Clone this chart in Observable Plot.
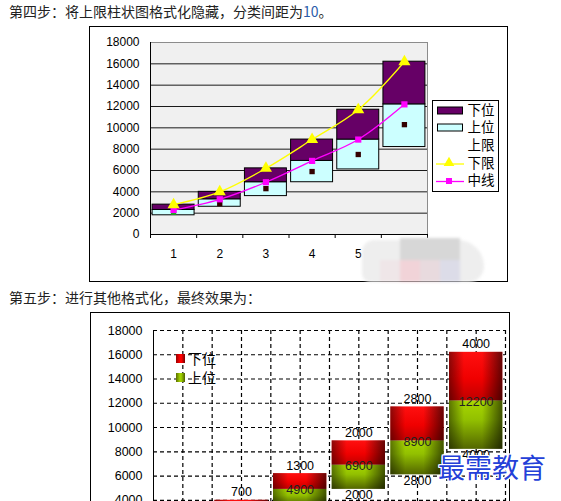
<!DOCTYPE html>
<html><head><meta charset="utf-8">
<script src="https://cdn.jsdelivr.net/npm/d3@7"></script>
<script src="https://cdn.jsdelivr.net/npm/@observablehq/plot@0.6"></script>
<style>
html,body{margin:0;padding:0;background:#fff;}
#page{position:relative;width:561px;height:501px;overflow:hidden;font-family:"Noto Sans CJK SC",sans-serif;}
.abs{position:absolute;}
.step{position:absolute;left:9px;font-size:14px;color:#222;white-space:nowrap;line-height:14px;}
.border{position:absolute;box-sizing:border-box;border:1px solid #000;pointer-events:none;}
.lg2{position:absolute;font-size:14px;line-height:14px;color:#000;white-space:nowrap;}
.sq{position:absolute;width:9px;height:9px;}
#wm{position:absolute;left:438px;top:453px;font-size:27px;line-height:27px;color:#2440d8;white-space:nowrap;
 text-shadow:1px 0 0 #fff,-1px 0 0 #fff,0 1px 0 #fff,0 -1px 0 #fff,1px 1px 0 #fff,-1px -1px 0 #fff,1px -1px 0 #fff,-1px 1px 0 #fff;}
</style></head>
<body><div id="page">
<div class="step" style="top:4px">第四步：将上限柱状图格式化隐藏，分类间距为<span style="color:#2a5caa">10</span>。</div>
<div id="c1" class="abs" style="left:89px;top:26px"></div>
<div class="border" style="left:89px;top:26px;width:419px;height:256px"></div>
<div id="leg1" class="abs" style="left:432px;top:100px"></div>
<div id="blob" class="abs" style="left:358px;top:234px;width:130px;height:52px;filter:blur(1.5px)">
  <div class="abs" style="left:4px;top:6px;width:122px;height:42px;background:#eeeeee;border-radius:14px 30px 18px 10px"></div>
  <div class="abs" style="left:42px;top:4px;width:60px;height:22px;background:#d7d7d7"></div>
  <div class="abs" style="left:22px;top:26px;width:20px;height:22px;background:#efe6e8"></div>
  <div class="abs" style="left:42px;top:26px;width:20px;height:22px;background:#f1d3d8"></div>
  <div class="abs" style="left:62px;top:26px;width:20px;height:22px;background:#e8dade"></div>
  <div class="abs" style="left:82px;top:26px;width:20px;height:22px;background:#dcdce8"></div>
</div>
<div class="step" style="top:290px">第五步：进行其他格式化，最终效果为：</div>
<div id="c2" class="abs" style="left:90px;top:312px"></div>
<div class="border" style="left:90px;top:312px;width:420px;height:260px"></div>
<div class="sq" style="left:176px;top:354px;background:linear-gradient(90deg,#900,#f00 45%,#f00 60%,#700)"></div>
<div class="lg2" style="left:188px;top:351px">下位</div>
<div class="sq" style="left:176px;top:373px;background:linear-gradient(90deg,#5a6d00,#a6d600 45%,#9acb00 60%,#4d5e00)"></div>
<div class="lg2" style="left:188px;top:370px">上位</div>
<div id="wm">最需教育</div>
</div>
<script>
// ---- data ----
const categories = [1, 2, 3, 4, 5, 6];
const median    = [2300, 3300, 4900, 6900, 8900, 12200];   // 中线
const belowSpan = [500, 700, 1300, 2000, 2800, 4000];      // 上位 (box part below median)
const aboveSpan = [500, 700, 1300, 2000, 2800, 4000];      // 下位 (box part above median)
const markValues = [2100, 2900, 4300, 5900, 7500, 10300];  // small dark markers
const markColors = ["#19b219", "#330000", "#330000", "#330000", "#330000", "#330000"];
const yTicks = [0, 2000, 4000, 6000, 8000, 10000, 12000, 14000, 16000, 18000];
const legendNames = ["下位", "上位", "上限", "下限", "中线"];
const legendKinds = ["rect", "rect", "none", "lineTri", "lineSq"];
const legendColors = ["#660066", "#ccffff", "none", "#ffff00", "#ff00ff"];

const rows = categories.map((c, i) => ({
  cat: c, med: median[i], lo: median[i] - belowSpan[i], hi: median[i] + aboveSpan[i],
  below: belowSpan[i], above: aboveSpan[i], mark: markValues[i], markColor: markColors[i]
}));
const half = 1 / 2.2;            // gap width 10%
const boundaries = d3.range(0.5, 6.51, 1);
const halfSteps = d3.range(1, 6.51, 0.5);

// ---- chart 1 ----
const c1 = Plot.plot({
  width: 419, height: 256, marginLeft: 61, marginRight: 81, marginTop: 16, marginBottom: 48,
  style: {fontFamily: "'Liberation Sans', Arial, sans-serif", fontSize: "12px", color: "#000", background: "#fff"},
  x: {domain: [0.5, 6.5], axis: null, label: null},
  y: {domain: [0, 18000], axis: null, label: null},
  color: {type: "identity"},
  marks: [
    Plot.frame({fill: "#f0f0f0", stroke: "#8c8c8c"}),
    Plot.ruleY(yTicks.filter(v => v > 0 && v < 18000), {stroke: "#1a1a1a"}),
    Plot.rect(rows, {x1: d => d.cat - half, x2: d => d.cat + half, y1: "lo", y2: "med", fill: "#ccffff", stroke: "#000"}),
    Plot.rect(rows, {x1: d => d.cat - half, x2: d => d.cat + half, y1: "med", y2: "hi", fill: "#660066", stroke: "#000"}),
    Plot.line(rows, {x: "cat", y: "hi", stroke: "#ffff00", strokeWidth: 1.3, curve: "catmull-rom"}),
    Plot.line(rows, {x: "cat", y: "med", stroke: "#ff00ff", strokeWidth: 1.3, curve: "catmull-rom"}),
    Plot.dot(rows, {x: "cat", y: "mark", symbol: "square", r: 3, fill: "markColor", stroke: null}),
    Plot.dot(rows, {x: "cat", y: "med", symbol: "square", r: 3.5, fill: "#ff00ff", stroke: null}),
    Plot.dot(rows, {x: "cat", y: "hi", symbol: "triangle", r: 4.5, fill: "#ffff00", stroke: null}),
    Plot.ruleY([0], {stroke: "#000"}),
    Plot.ruleX([0.5], {stroke: "#000"}),
    Plot.axisY({ticks: yTicks, tickSize: 0, tickPadding: 11, tickFormat: d => String(d), label: null}),
    Plot.axisX({ticks: boundaries, tickSize: 4, tickFormat: () => "", label: null}),
    Plot.axisX({ticks: categories, tickSize: 0, tickPadding: 14.5, tickFormat: d => String(d), label: null})
  ]
});
document.getElementById("c1").appendChild(c1);

// legend for chart 1
(function () {
  const W = 67, H = 92, rowY = [10.5, 27.5, 45, 63, 80.5];
  const svg = d3.select("#leg1").append("svg").attr("width", W).attr("height", H);
  svg.append("rect").attr("x", 0.5).attr("y", 0.5).attr("width", W - 1).attr("height", H - 1)
    .attr("fill", "#fff").attr("stroke", "#000");
  legendNames.forEach((name, i) => {
    const y = rowY[i], k = legendKinds[i], col = legendColors[i];
    if (k === "rect") {
      svg.append("rect").attr("x", 5.5).attr("y", y - 3.5).attr("width", 25).attr("height", 7)
        .attr("fill", col).attr("stroke", "#000");
    } else if (k === "lineTri" || k === "lineSq") {
      svg.append("line").attr("x1", 4).attr("x2", 32).attr("y1", y + 1).attr("y2", y + 1)
        .attr("stroke", col).attr("stroke-width", 1.3);
      if (k === "lineTri") svg.append("path").attr("d", d3.symbol(d3.symbolTriangle, 50)())
        .attr("transform", `translate(17,${y})`).attr("fill", col);
      else svg.append("rect").attr("x", 14).attr("y", y - 2.5).attr("width", 6).attr("height", 6).attr("fill", col);
    }
    svg.append("text").attr("x", 35.5).attr("y", y).attr("dy", "0.36em")
      .attr("font-family", "'Noto Sans CJK SC', sans-serif").attr("font-size", 13.5).attr("fill", "#000").text(name);
  });
})();

// ---- chart 2 ----
const c2 = Plot.plot({
  width: 420, height: 270, marginLeft: 63, marginRight: 5, marginTop: 18, marginBottom: 33.7,
  style: {fontFamily: "'Liberation Sans', Arial, sans-serif", fontSize: "12.5px", color: "#000", background: "#fff"},
  x: {domain: [0.5, 6.5], axis: null, label: null},
  y: {domain: [0, 18000], axis: null, label: null},
  marks: [
    Plot.ruleY(yTicks.filter(v => v > 0), {stroke: "#000", strokeWidth: 1.2, strokeDasharray: "4,3"}),
    Plot.ruleX(halfSteps, {stroke: "#000", strokeWidth: 1.2, strokeDasharray: "4,3"}),
    Plot.rect(rows, {x1: d => d.cat - half, x2: d => d.cat + half, y1: "lo", y2: "med", fill: "url(#g2green)"}),
    Plot.rect(rows, {x1: d => d.cat - half, x2: d => d.cat + half, y1: "med", y2: "hi", fill: "url(#g2red)"}),
    Plot.rect(rows, {x1: d => d.cat - half, x2: d => d.cat + half, y1: "lo", y2: "hi", fill: "url(#g2edge)"}),
    Plot.text(rows, {x: "cat", y: "hi", text: d => String(d.above), dy: -8, fill: "#000"}),
    Plot.text(rows, {x: "cat", y: "med", text: d => String(d.med), dy: 1, fill: "#222"}),
    Plot.text(rows, {x: "cat", y: "lo", text: d => String(d.below), dy: 6, fill: "#000"}),
    Plot.ruleY([0], {stroke: "#000"}),
    Plot.ruleX([0.5], {stroke: "#000"}),
    Plot.axisY({ticks: yTicks, tickSize: 0, tickPadding: 11, tickFormat: d => String(d), label: null}),
    Plot.axisX({ticks: categories, tickSize: 0, tickPadding: 8, tickFormat: d => String(d), label: null})
  ]
});
document.getElementById("c2").appendChild(c2);
(function () {
  const svg = d3.select(c2.tagName.toLowerCase() === "svg" ? c2 : c2.querySelector("svg"));
  const defs = svg.insert("defs", ":first-child");
  function lg(id, x2, y2, stops) {
    const g = defs.append("linearGradient").attr("id", id).attr("x1", 0).attr("y1", 0).attr("x2", x2).attr("y2", y2);
    stops.forEach(([o, c, a]) => g.append("stop").attr("offset", o).attr("stop-color", c).attr("stop-opacity", a == null ? 1 : a));
  }
  lg("g2red", 0, 1, [[0, "#ff1010"], [0.55, "#f00000"], [1, "#c00000"]]);
  lg("g2green", 0, 1, [[0, "#a8d800"], [0.4, "#92c000"], [1, "#536600"]]);
  lg("g2edge", 1, 0, [[0, "#000", 0.45], [0.28, "#000", 0], [0.62, "#000", 0], [1, "#000", 0.6]]);
})();
</script>
</body></html>
